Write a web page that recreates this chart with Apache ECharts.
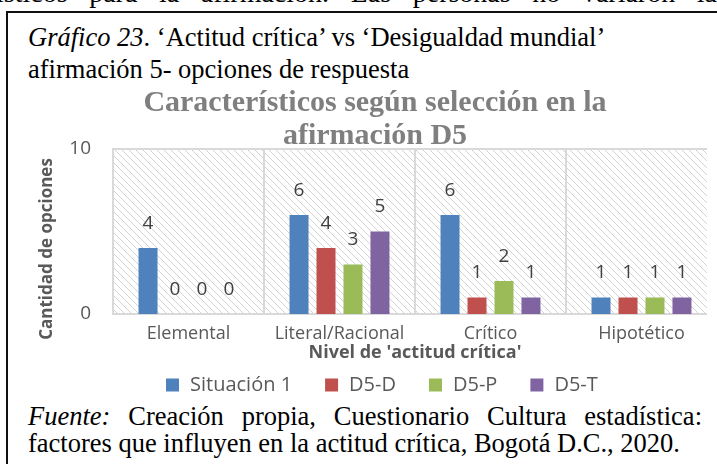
<!DOCTYPE html>
<html>
<head>
<meta charset="utf-8">
<script src="https://cdn.jsdelivr.net/npm/echarts@6/dist/echarts.min.js"></script>
<style>
  html, body { margin: 0; padding: 0; background: #fff; }
  body { width: 717px; height: 464px; position: relative; overflow: hidden; }
  .doc { position: absolute; font-family: 'Liberation Serif', serif; font-size: 26.5px; color: #000; white-space: nowrap; }
  .just { text-align: justify; text-align-last: justify; white-space: normal; }
  #box { position: absolute; left: 6px; top: 11px; width: 740px; height: 480px; border-left: 2px solid #111; border-top: 2px solid #111; }
  #chart { position: absolute; left: 0; top: 0; width: 717px; height: 464px; }
</style>
</head>
<body>
<div class="doc just" style="left:-4px; top:-21px; width:721px; font-size:28px; line-height:28px;">ísticos para la afirmación. Las personas no variaron la</div>
<div id="box"></div>
<div class="doc" style="left:28px; top:21px; line-height:32px;"><i>Gráfico 23</i>. ‘Actitud crítica’ vs ‘Desigualdad mundial’<br>afirmación 5- opciones de respuesta</div>
<div class="doc just" style="left:28px; top:403px; width:674px; line-height:27px;"><i>Fuente:</i> Creación propia, Cuestionario Cultura estadística:</div>
<div class="doc" style="left:28px; top:430px; line-height:27px;">factores que influyen en la actitud crítica, Bogotá D.C., 2020.</div>
<div id="chart"></div>
<script>
// datos
const categories = ['Elemental', 'Literal/Racional', 'Crítico', 'Hipotético']
const seriesNames = ['Situación 1', 'D5-D', 'D5-P', 'D5-T']
const situacion1 = [4, 6, 6, 1]
const d5D = [0, 4, 1, 1]
const d5P = [0, 3, 2, 1]
const d5T = [0, 5, 1, 1]
const yMin = 0
const yMax = 10
const yStep = 10

const colors = ['#4f81bd', '#c0504d', '#9bbb59', '#8064a2']
const sans = "'Open Sans', sans-serif"

// fondo rayado del área de trazado
const hatch = document.createElement('canvas')
hatch.width = 7
hatch.height = 7
const hctx = hatch.getContext('2d')
hctx.fillStyle = '#ffffff'
hctx.fillRect(0, 0, 7, 7)
hctx.strokeStyle = '#d3d3d3'
hctx.lineWidth = 1
hctx.beginPath()
hctx.moveTo(-1, -1); hctx.lineTo(8, 8)
hctx.moveTo(-1, 6); hctx.lineTo(1, 8)
hctx.moveTo(6, -1); hctx.lineTo(8, 1)
hctx.stroke()

const chart = echarts.init(document.getElementById('chart'))

const values = [situacion1, d5D, d5P, d5T]

const series = seriesNames.map((name, i) => ({
  name,
  type: 'bar',
  data: values[i],
  barWidth: 19,
  barGap: '42%',
  itemStyle: { color: colors[i] },
  label: {
    show: true,
    position: 'top',
    distance: 15,
    fontFamily: sans,
    fontSize: 19,
    color: '#404040'
  }
}))

chart.setOption({
  animation: false,
  color: colors,
  grid: {
    show: true,
    left: 113,
    right: 0,
    top: 149,
    bottom: 150,
    backgroundColor: { image: hatch, repeat: 'repeat' },
    borderColor: '#d9d9d9',
    borderWidth: 2
  },
  legend: {
    data: seriesNames,
    left: 161,
    top: 370,
    itemWidth: 13,
    itemHeight: 13,
    itemGap: 33,
    icon: 'rect',
    textStyle: {
      fontFamily: sans,
      fontSize: 20,
      color: '#595959',
      padding: [0, 0, 0, 6]
    }
  },
  xAxis: {
    type: 'category',
    data: categories,
    axisTick: { show: false },
    axisLine: { lineStyle: { color: '#d9d9d9', width: 2 } },
    splitLine: { show: true, interval: 0, lineStyle: { color: '#d9d9d9', width: 2 } },
    axisLabel: { interval: 0, fontFamily: sans, fontSize: 18, color: '#595959', margin: 11 },
    name: "Nivel de 'actitud crítica'",
    nameLocation: 'middle',
    nameGap: 30,
    nameTextStyle: { fontFamily: sans, fontSize: 18, fontWeight: 'bold', color: '#595959' }
  },
  yAxis: {
    type: 'value',
    min: yMin,
    max: yMax,
    interval: yStep,
    axisLine: { show: false },
    axisTick: { show: false },
    splitLine: { show: true, lineStyle: { color: '#d9d9d9', width: 2 } },
    axisLabel: { fontFamily: sans, fontSize: 19, color: '#595959', margin: 22 }
  },
  graphic: [
    {
      type: 'rect',
      shape: { x: 707, y: 140, width: 12, height: 182 },
      style: { fill: '#ffffff' },
      z: 100
    },
    {
      type: 'text',
      x: 375,
      y: 87,
      style: {
        text: 'Característicos según selección en la\nafirmación D5',
        align: 'center',
        verticalAlign: 'top',
        lineHeight: 33,
        fontFamily: "'Liberation Serif', serif",
        fontWeight: 'bold',
        fontSize: 30,
        fill: '#7f7f7f'
      },
      z: 100
    },
    {
      type: 'text',
      x: 47,
      y: 249,
      rotation: Math.PI / 2,
      style: {
        text: 'Cantidad de opciones',
        align: 'center',
        verticalAlign: 'middle',
        fontFamily: sans,
        fontSize: 17,
        fontWeight: 'bold',
        fill: '#595959'
      }
    }
  ],
  series
})
</script>
</body>
</html>
